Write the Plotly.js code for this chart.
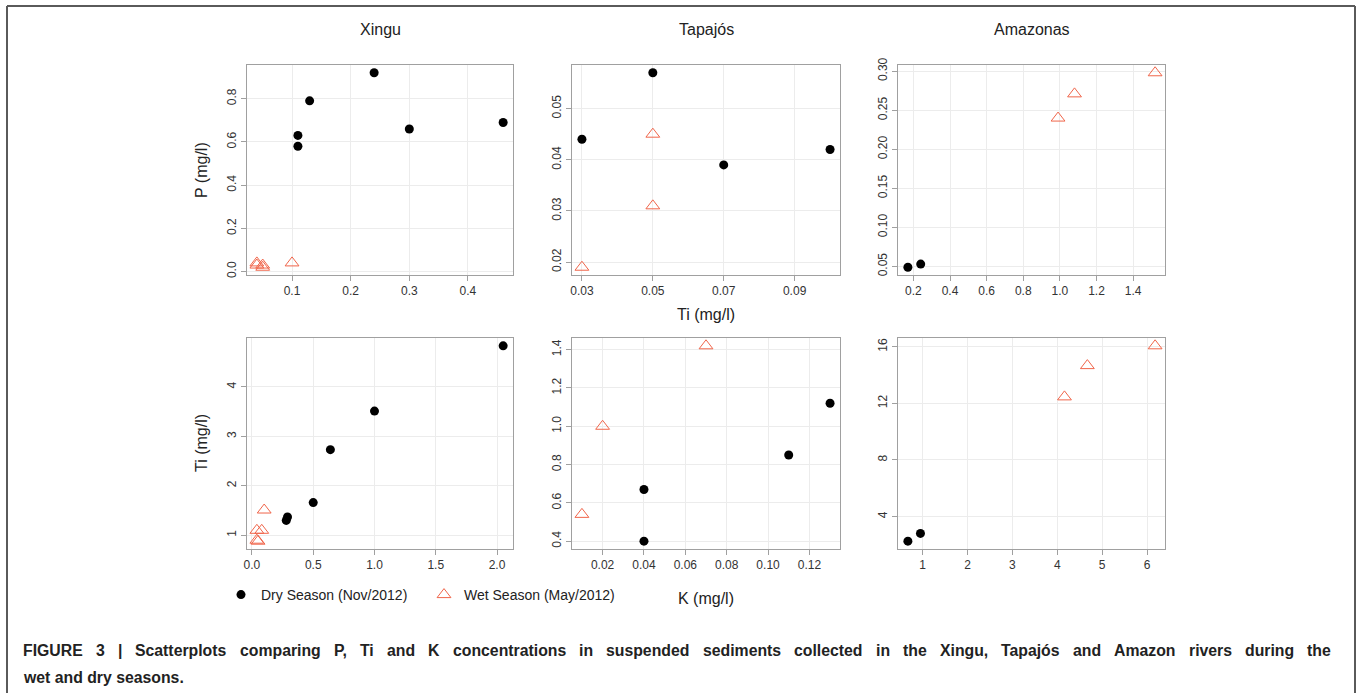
<!DOCTYPE html>
<html>
<head>
<meta charset="utf-8">
<script src="https://cdn.plot.ly/plotly-3.0.1.min.js"></script>
<style>
html,body{margin:0;padding:0;background:#fff;}
#chart{width:1357px;height:693px;}
</style>
</head>
<body>
<div id="chart"></div>
<script>
// ---- Data ----
const rivers = ["Xingu", "Tapajós", "Amazonas"];
const seasonLabels = ["Dry Season (Nov/2012)", "Wet Season (May/2012)"];
const captionLine1 = "FIGURE 3 | Scatterplots comparing P, Ti and K concentrations in suspended sediments collected in the Xingu, Tapajós and Amazon rivers during the";
const captionLine2 = "wet and dry seasons.";

// Top row: x = Ti (mg/l), y = P (mg/l)
const xinguDryTi = [0.24, 0.13, 0.11, 0.11, 0.30, 0.46];
const xinguDryP  = [0.92, 0.79, 0.63, 0.58, 0.66, 0.69];
const xinguWetTi = [0.04, 0.04, 0.05, 0.05, 0.10];
const xinguWetP  = [0.04, 0.03, 0.03, 0.02, 0.04];

const tapajosDryTi = [0.03, 0.05, 0.07, 0.10];
const tapajosDryP  = [0.044, 0.057, 0.039, 0.042];
const tapajosWetTi = [0.05, 0.05, 0.03];
const tapajosWetP  = [0.045, 0.031, 0.019];

const amazonasDryTi = [0.17, 0.24];
const amazonasDryP  = [0.049, 0.053];
const amazonasWetTi = [0.99, 1.08, 1.52];
const amazonasWetP  = [0.240, 0.271, 0.298];

// Bottom row: x = K (mg/l), y = Ti (mg/l)
const xinguDryK  = [2.05, 1.00, 0.64, 0.50, 0.29, 0.28];
const xinguDryTi2 = [4.83, 3.51, 2.73, 1.66, 1.37, 1.30];
const xinguWetK  = [0.10, 0.04, 0.08, 0.04, 0.05];
const xinguWetTi2 = [1.51, 1.10, 1.10, 0.90, 0.88];

const tapajosDryK  = [0.04, 0.04, 0.11, 0.13];
const tapajosDryTi2 = [0.40, 0.67, 0.85, 1.12];
const tapajosWetK  = [0.01, 0.02, 0.07];
const tapajosWetTi2 = [0.54, 1.00, 1.42];

const amazonasDryK  = [0.67, 0.95];
const amazonasDryTi2 = [2.26, 2.81];
const amazonasWetK  = [4.16, 4.67, 6.18];
const amazonasWetTi2 = [12.46, 14.67, 16.07];

// Tick values / labels
const p1xTicks = [0.1, 0.2, 0.3, 0.4];           const p1xLabels = ["0.1","0.2","0.3","0.4"];
const p1yTicks = [0, 0.2, 0.4, 0.6, 0.8];        const p1yLabels = ["0.0","0.2","0.4","0.6","0.8"];
const p2xTicks = [0.03, 0.05, 0.07, 0.09];       const p2xLabels = ["0.03","0.05","0.07","0.09"];
const p2yTicks = [0.02, 0.03, 0.04, 0.05];       const p2yLabels = ["0.02","0.03","0.04","0.05"];
const p3xTicks = [0.2,0.4,0.6,0.8,1.0,1.2,1.4];  const p3xLabels = ["0.2","0.4","0.6","0.8","1.0","1.2","1.4"];
const p3yTicks = [0.05,0.10,0.15,0.20,0.25,0.30];const p3yLabels = ["0.05","0.10","0.15","0.20","0.25","0.30"];
const p4xTicks = [0, 0.5, 1.0, 1.5, 2.0];        const p4xLabels = ["0.0","0.5","1.0","1.5","2.0"];
const p4yTicks = [1, 2, 3, 4];                   const p4yLabels = ["1","2","3","4"];
const p5xTicks = [0.02,0.04,0.06,0.08,0.10,0.12];const p5xLabels = ["0.02","0.04","0.06","0.08","0.10","0.12"];
const p5yTicks = [0.4,0.6,0.8,1.0,1.2,1.4];      const p5yLabels = ["0.4","0.6","0.8","1.0","1.2","1.4"];
const p6xTicks = [1,2,3,4,5,6];                  const p6xLabels = ["1","2","3","4","5","6"];
const p6yTicks = [4, 8, 12, 16];                 const p6yLabels = ["4","8","12","16"];

// ---- Styling ----
const W = 1357, H = 693;
const DRY = "#000000", WET = "#f0654a";
const FONT = "Liberation Sans, Arial, Helvetica, sans-serif";
const colPx = [[247, 513], [572, 840], [898, 1165]];
const rowPx = [[65, 275], [338, 549]];
const px2x = p => p / W;
const px2y = p => 1 - p / H;

function padRange(a, b) {
  const all = a.concat(b);
  const mn = Math.min(...all), mx = Math.max(...all);
  const d = (mx - mn) * 0.04;
  return [mn - d, mx + d];
}

const panels = [
  {dx: xinguDryTi, dy: xinguDryP, wx: xinguWetTi, wy: xinguWetP, xt: p1xTicks, xl: p1xLabels, yt: p1yTicks, yl: p1yLabels},
  {dx: tapajosDryTi, dy: tapajosDryP, wx: tapajosWetTi, wy: tapajosWetP, xt: p2xTicks, xl: p2xLabels, yt: p2yTicks, yl: p2yLabels},
  {dx: amazonasDryTi, dy: amazonasDryP, wx: amazonasWetTi, wy: amazonasWetP, xt: p3xTicks, xl: p3xLabels, yt: p3yTicks, yl: p3yLabels},
  {dx: xinguDryK, dy: xinguDryTi2, wx: xinguWetK, wy: xinguWetTi2, xt: p4xTicks, xl: p4xLabels, yt: p4yTicks, yl: p4yLabels},
  {dx: tapajosDryK, dy: tapajosDryTi2, wx: tapajosWetK, wy: tapajosWetTi2, xt: p5xTicks, xl: p5xLabels, yt: p5yTicks, yl: p5yLabels},
  {dx: amazonasDryK, dy: amazonasDryTi2, wx: amazonasWetK, wy: amazonasWetTi2, xt: p6xTicks, xl: p6xLabels, yt: p6yTicks, yl: p6yLabels}
];

const traces = [];
const layout = {
  width: W, height: H,
  margin: {l: 0, r: 0, t: 0, b: 0},
  paper_bgcolor: "#fff", plot_bgcolor: "#fff",
  font: {family: FONT, color: "#222", size: 12},
  showlegend: true,
  legend: {
    orientation: "h", x: px2x(221), y: px2y(595), xanchor: "left", yanchor: "middle",
    font: {family: FONT, size: 14, color: "#222"},
    bgcolor: "rgba(0,0,0,0)", itemwidth: 30, entrywidth: 158, entrywidthmode: "pixels"
  },
  annotations: [],
  shapes: []
};

panels.forEach((p, i) => {
  const n = i + 1;
  const sx = n === 1 ? "" : String(n);
  const col = i % 3, row = Math.floor(i / 3);
  traces.push({
    type: "scatter", mode: "markers", x: p.dx, y: p.dy,
    xaxis: "x" + sx, yaxis: "y" + sx,
    name: seasonLabels[0], legendgroup: "dry", showlegend: i === 0,
    marker: {symbol: "circle", size: 9, color: DRY},
    cliponaxis: false, hoverinfo: "x+y"
  });
  traces.push({
    type: "scatter", mode: "markers", x: p.wx, y: p.wy,
    xaxis: "x" + sx, yaxis: "y" + sx,
    name: seasonLabels[1], legendgroup: "wet", showlegend: i === 0,
    marker: {symbol: "triangle-up-open", size: 12, color: WET, line: {width: 1, color: WET}},
    cliponaxis: false, hoverinfo: "x+y"
  });
  const common = {
    showline: true, mirror: true, linecolor: "#a0a0a0", linewidth: 1,
    showgrid: true, gridcolor: "#ececec", gridwidth: 1, zeroline: false,
    ticks: "outside", ticklen: 5, tickcolor: "#a0a0a0", tickwidth: 1,
    tickfont: {family: FONT, size: 12, color: "#333"}, tickmode: "array"
  };
  layout["xaxis" + sx] = Object.assign({}, common, {
    domain: [px2x(colPx[col][0]), px2x(colPx[col][1])],
    anchor: "y" + sx, range: padRange(p.dx, p.wx),
    tickvals: p.xt, ticktext: p.xl
  });
  layout["yaxis" + sx] = Object.assign({}, common, {
    domain: [px2y(rowPx[row][1]), px2y(rowPx[row][0])],
    anchor: "x" + sx, range: padRange(p.dy, p.wy),
    tickvals: p.yt, ticktext: p.yl, tickangle: -90
  });
});

// Column titles
rivers.forEach((r, c) => {
  layout.annotations.push({
    xref: "paper", yref: "paper", x: px2x((colPx[c][0] + colPx[c][1]) / 2), y: px2y(30),
    xanchor: "center", yanchor: "middle", showarrow: false, text: r,
    font: {family: FONT, size: 16, color: "#222"}
  });
});
// Axis titles
const axTitleFont = {family: FONT, size: 16, color: "#222"};
layout.annotations.push(
  {xref: "paper", yref: "paper", x: px2x(201), y: px2y(170), textangle: -90, showarrow: false,
   xanchor: "center", yanchor: "middle", text: "P (mg/l)", font: axTitleFont},
  {xref: "paper", yref: "paper", x: px2x(201), y: px2y(443), textangle: -90, showarrow: false,
   xanchor: "center", yanchor: "middle", text: "Ti (mg/l)", font: axTitleFont},
  {xref: "paper", yref: "paper", x: px2x(706), y: px2y(314), showarrow: false,
   xanchor: "center", yanchor: "middle", text: "Ti (mg/l)", font: axTitleFont},
  {xref: "paper", yref: "paper", x: px2x(706), y: px2y(598), showarrow: false,
   xanchor: "center", yanchor: "middle", text: "K (mg/l)", font: axTitleFont}
);

// Caption (first line justified between 22px and 1330px, as in the reference)
const CAP_SIZE = 15.8;
const capFont = {family: FONT, size: CAP_SIZE, color: "#222"};
(function () {
  const ctx = document.createElement("canvas").getContext("2d");
  ctx.font = "bold " + CAP_SIZE + "px 'Liberation Sans', Arial, sans-serif";
  const words = captionLine1.split(" ");
  const widths = words.map(w => ctx.measureText(w).width);
  const total = widths.reduce((a, b) => a + b, 0);
  const left = 22, right = 1330;
  const gap = (right - left - total) / (words.length - 1);
  let xPos = left;
  words.forEach((w, k) => {
    layout.annotations.push({
      xref: "paper", yref: "paper", x: px2x(xPos), y: px2y(650), xanchor: "left", yanchor: "middle",
      showarrow: false, text: "<b>" + w + "</b>", font: capFont, borderpad: 0
    });
    xPos += widths[k] + gap;
  });
})();
layout.annotations.push(
  {xref: "paper", yref: "paper", x: px2x(22), y: px2y(677), xanchor: "left", yanchor: "middle", showarrow: false,
   text: "<b>" + captionLine2 + "</b>", font: capFont, borderpad: 0}
);

// Outer frame (open at the bottom of the picture)
const frame = {color: "#5a5a5a", width: 2};
layout.shapes.push(
  {type: "line", xref: "paper", yref: "paper", x0: px2x(7), x1: px2x(1355), y0: px2y(6), y1: px2y(6), line: frame},
  {type: "line", xref: "paper", yref: "paper", x0: px2x(7), x1: px2x(7), y0: px2y(6), y1: 0, line: frame},
  {type: "line", xref: "paper", yref: "paper", x0: px2x(1355), x1: px2x(1355), y0: px2y(6), y1: 0, line: frame}
);

Plotly.newPlot("chart", traces, layout, {displayModeBar: false, staticPlot: true});
</script>
</body>
</html>
